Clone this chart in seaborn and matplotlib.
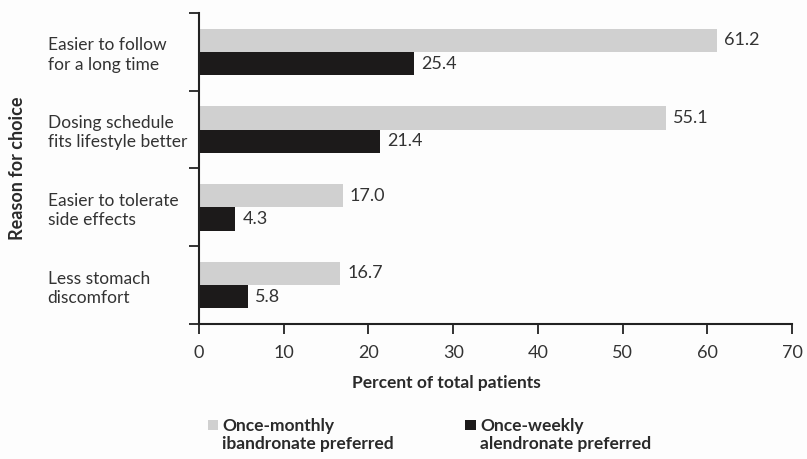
import matplotlib
matplotlib.use("Agg")
import matplotlib.pyplot as plt
import seaborn as sns
import pandas as pd
from matplotlib.patches import Patch, Rectangle
from matplotlib.legend_handler import HandlerPatch

reasons = [
    "Easier to follow\nfor a long time",
    "Dosing schedule\nfits lifestyle better",
    "Easier to tolerate\nside effects",
    "Less stomach\ndiscomfort",
]
series_names = [
    "Once-monthly\nibandronate preferred",
    "Once-weekly\nalendronate preferred",
]
ibandronate = [61.2, 55.1, 17.0, 16.7]
alendronate = [25.4, 21.4, 4.3, 5.8]
x_ticks = [0, 10, 20, 30, 40, 50, 60, 70]

df = pd.DataFrame({
    "reason": reasons * 2,
    "group": [series_names[0]] * 4 + [series_names[1]] * 4,
    "value": ibandronate + alendronate,
})

sns.set_theme(style="white")
plt.rcParams["font.family"] = ["Lato", "DejaVu Sans"]
text_color = "#2a2a2a"
label_color = "#333333"
plt.rcParams["text.color"] = text_color

fig = plt.figure(figsize=(8.07, 4.59), dpi=100, facecolor="#fdfdfd")
ax = fig.add_axes([0.2466, 0.2941, 0.9814 - 0.2466, 0.9717 - 0.2941])
ax.set_facecolor("#fdfdfd")

palette = {series_names[0]: "#d0d0d0", series_names[1]: "#1c1a1a"}
sns.barplot(data=df, y="reason", x="value", hue="group", order=reasons,
            hue_order=series_names, palette=palette, orient="h", width=0.6,
            gap=0.0, saturation=1, ax=ax, legend=False, edgecolor="none")

for cont in ax.containers:
    ax.bar_label(cont, fmt="%.1f", padding=5, fontsize=13, color=label_color)

ax.set_xlim(0, 70)
ax.set_ylim(3.5, -0.5)
ax.set_xticks(x_ticks)
ax.set_xticklabels([str(t) for t in x_ticks], fontsize=13, color=label_color)
ax.tick_params(axis="x", direction="out", length=7, width=1.3, color="#222222", pad=8, bottom=True)

# category labels, left-aligned, with separator ticks between categories
ax.set_yticks(range(len(reasons)))
ax.set_yticklabels(reasons, fontsize=12.5, color=label_color, ha="left", linespacing=1.25)
ax.tick_params(axis="y", which="major", length=0, pad=109)
ax.set_yticks([-0.5, 0.5, 1.5, 2.5, 3.5], minor=True)
ax.tick_params(axis="y", which="minor", direction="out", length=7, width=1.3, color="#222222", left=True)

for side in ["top", "right"]:
    ax.spines[side].set_visible(False)
for side in ["left", "bottom"]:
    ax.spines[side].set_color("#222222")
    ax.spines[side].set_linewidth(1.5)

ax.set_xlabel("Percent of total patients", fontsize=12.5, fontweight="bold", color=text_color)
ax.xaxis.set_label_coords(0.4165, -0.19)
ax.xaxis.label.set_va("center")
ax.set_ylabel("")
fig.text(0.022, 0.633, "Reason for choice", rotation=90, fontsize=13, fontweight="bold",
         ha="center", va="center", color=text_color)


# square swatch placed level with the first line of a two-line label
class FirstLineSwatch(HandlerPatch):
    def create_artists(self, legend, orig_handle, xdescent, ydescent, width, height, fontsize, trans):
        size = fontsize * 0.6
        rect = Rectangle((-xdescent, -ydescent + fontsize * 0.6), size, size,
                         facecolor=orig_handle.get_facecolor(), edgecolor="none", transform=trans)
        return [rect]


handles = [Patch(facecolor=palette[n], edgecolor="none") for n in series_names]
leg = fig.legend(handles, series_names, loc="upper left", bbox_to_anchor=(0.238, 0.124),
                 ncol=2, frameon=False, handlelength=0.6, handleheight=0.6,
                 handletextpad=0.25, columnspacing=4.1,
                 handler_map={Patch: FirstLineSwatch()},
                 prop={"weight": "bold", "size": 12.5})
for t in leg.get_texts():
    t.set_color(text_color)
    t.set_linespacing(1.15)

fig.savefig("out.png", dpi=100, facecolor=fig.get_facecolor())
